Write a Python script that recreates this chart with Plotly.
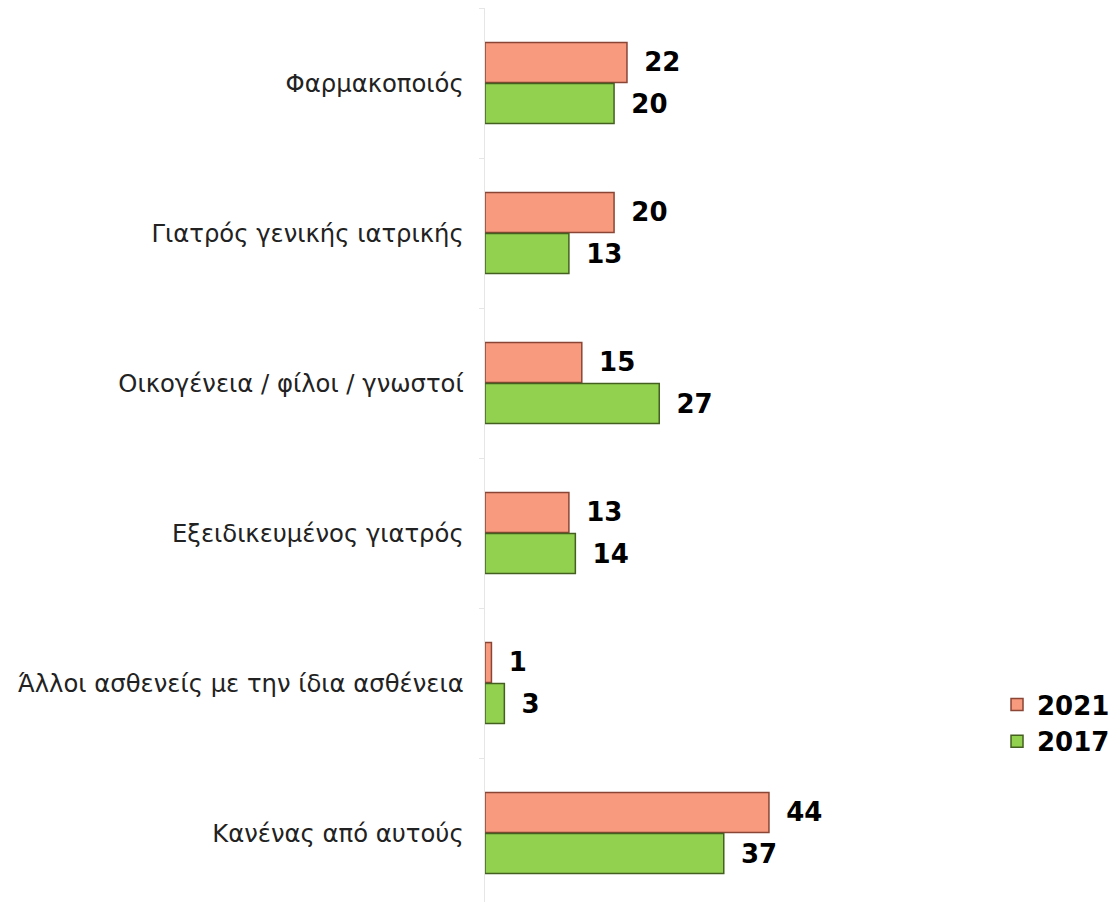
import plotly.graph_objects as go

categories = ["Φαρμακοποιός", "Γιατρός γενικής ιατρικής", "Οικογένεια / φίλοι / γνωστοί",
              "Εξειδικευμένος γιατρός", "Άλλοι ασθενείς με την ίδια ασθένεια", "Κανένας από αυτούς"]
values_2021 = [22, 20, 15, 13, 1, 44]
values_2017 = [20, 13, 27, 14, 3, 37]

label_font = dict(family="DejaVu Sans", size=26, color="black", weight="bold")

fig = go.Figure()
fig.add_trace(go.Bar(
    y=categories, x=values_2021, name="2021", orientation="h",
    marker=dict(color="#F79A7E", line=dict(color="#8A4535", width=1.5)),
    text=values_2021, texttemplate=" \u2009%{text}", textposition="outside",
    textfont=label_font, cliponaxis=False,
))
fig.add_trace(go.Bar(
    y=categories, x=values_2017, name="2017", orientation="h",
    marker=dict(color="#92D050", line=dict(color="#44601F", width=1.5)),
    text=values_2017, texttemplate=" \u2009%{text}", textposition="outside",
    textfont=label_font, cliponaxis=False,
))

fig.update_layout(
    width=1112, height=894,
    margin=dict(l=477, r=120, t=0, b=0, autoexpand=False),
    paper_bgcolor="white", plot_bgcolor="white",
    barmode="group", bargap=0.453, bargroupgap=0.03,
    showlegend=True,
    legend=dict(x=0.9942, y=0.2472, xanchor="left", yanchor="top",
                font=label_font, itemwidth=30, bgcolor="rgba(0,0,0,0)"),
    font=dict(family="DejaVu Sans", size=24.3, color="#222"),
)
fig.update_xaxes(range=[0, 79.8], visible=False, showgrid=False, zeroline=False)
fig.update_yaxes(range=[5.46, -0.5], showline=True, linecolor="#E6E6E6", linewidth=1,
                 ticks="outside", tickson="boundaries", ticklen=5, tickcolor="#E6E6E6",
                 showgrid=False, ticksuffix="  ",
                 tickfont=dict(family="DejaVu Sans", size=24.3, color="#222"))

fig.write_html("out.html")
